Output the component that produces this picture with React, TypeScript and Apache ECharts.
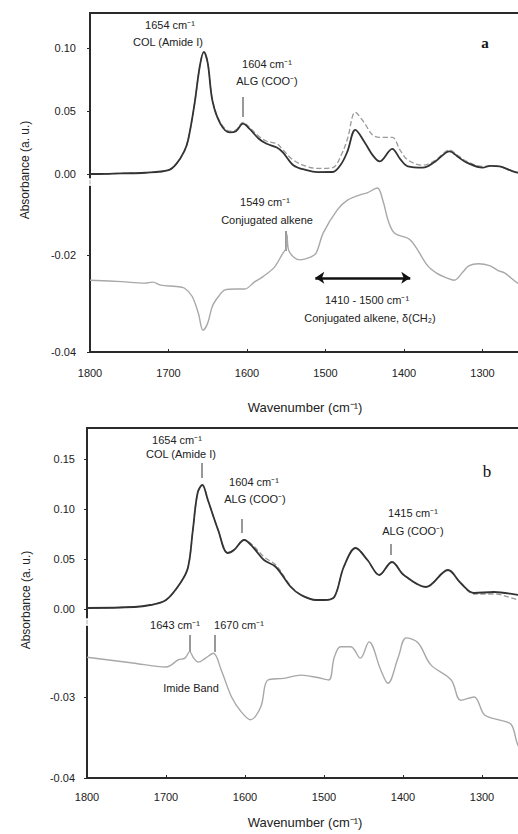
import React, { useEffect, useRef } from "react";
import * as echarts from "echarts";

// ---------- Panel a data ----------
const aSolidWn = [1800, 1790, 1760, 1730, 1700, 1690, 1680, 1675, 1667, 1660, 1655, 1650, 1644, 1634, 1622, 1614, 1605, 1597, 1585, 1575, 1562, 1554, 1541, 1524, 1510, 1491, 1480, 1472, 1462, 1450, 1440, 1431, 1415, 1405, 1395, 1376, 1360, 1342, 1330, 1320, 1300, 1290, 1278, 1265, 1255, 1230, 1200];
const aSolidVal = [0.0, 0.0, 0.0005, 0.001, 0.003, 0.008, 0.018, 0.027, 0.055, 0.086, 0.097, 0.088, 0.058, 0.040, 0.033, 0.034, 0.040, 0.036, 0.028, 0.024, 0.021, 0.017, 0.007, 0.003, 0.0015, 0.0016, 0.008, 0.018, 0.035, 0.025, 0.015, 0.010, 0.020, 0.012, 0.006, 0.005, 0.010, 0.018, 0.013, 0.009, 0.005, 0.0065, 0.006, 0.003, 0.001, -0.002, -0.004];
const aDashVal = [0.0, 0.0, 0.0005, 0.001, 0.003, 0.008, 0.018, 0.027, 0.055, 0.086, 0.097, 0.088, 0.059, 0.041, 0.034, 0.035, 0.041, 0.037, 0.030, 0.026, 0.024, 0.019, 0.011, 0.006, 0.0045, 0.005, 0.015, 0.028, 0.049, 0.040, 0.031, 0.029, 0.029, 0.019, 0.011, 0.007, 0.011, 0.019, 0.014, 0.010, 0.006, 0.0065, 0.006, 0.003, 0.001, -0.002, -0.004];
const aDiffWn = [1800, 1760, 1730, 1720, 1710, 1690, 1680, 1670, 1662, 1656, 1650, 1644, 1636, 1628, 1615, 1603, 1590, 1580, 1565, 1555, 1550, 1549, 1547, 1540, 1532, 1520, 1512, 1503, 1485, 1472, 1456, 1447, 1434, 1427, 1420, 1412, 1392, 1370, 1358, 1346, 1336, 1325, 1317, 1305, 1291, 1280, 1272, 1255, 1230, 1200];
const aDiffVal = [-0.0252, -0.0255, -0.0258, -0.0256, -0.0262, -0.0265, -0.0268, -0.0285, -0.032, -0.0355, -0.034, -0.0305, -0.0285, -0.0272, -0.027, -0.027, -0.0255, -0.0245, -0.0225, -0.0198, -0.0185, -0.0158, -0.019, -0.0205, -0.021, -0.0205, -0.0196, -0.0155, -0.0107, -0.0087, -0.0076, -0.0072, -0.0062, -0.0087, -0.013, -0.0155, -0.0169, -0.0222, -0.0238, -0.0247, -0.0252, -0.0235, -0.0222, -0.0218, -0.0222, -0.0232, -0.0237, -0.0258, -0.028, -0.030];
const aArrow = [1513, 1392];
const aArrowVal = -0.0247;
const aOriginMark = [[1800, -0.0063]];
const aUpperTicks = [0, 0.05, 0.1];
const aLowerTicks = [-0.04, -0.02];

// ---------- Panel b data ----------
const bSolidWn = [1800, 1740, 1720, 1700, 1681, 1672, 1666, 1660, 1654, 1647, 1634, 1622, 1614, 1601, 1589, 1576, 1561, 1542, 1529, 1510, 1500, 1487, 1475, 1460, 1445, 1430, 1414, 1399, 1371, 1343, 1327, 1310, 1285, 1253, 1230, 1200];
const bSolidVal = [0.001, 0.002, 0.004, 0.009, 0.027, 0.042, 0.079, 0.116, 0.124, 0.109, 0.079, 0.056, 0.059, 0.069, 0.061, 0.049, 0.042, 0.022, 0.014, 0.009, 0.009, 0.012, 0.042, 0.061, 0.049, 0.034, 0.047, 0.034, 0.022, 0.039, 0.026, 0.016, 0.017, 0.014, 0.012, 0.010];
const bDashVal = [0.001, 0.002, 0.004, 0.009, 0.027, 0.042, 0.079, 0.116, 0.124, 0.109, 0.079, 0.056, 0.059, 0.069, 0.063, 0.052, 0.044, 0.023, 0.014, 0.009, 0.009, 0.012, 0.042, 0.061, 0.049, 0.034, 0.047, 0.034, 0.022, 0.039, 0.026, 0.015, 0.015, 0.009, 0.006, 0.004];
const bDiffWn = [1800, 1742, 1700, 1684, 1676, 1670, 1665, 1659, 1650, 1640, 1630, 1617, 1605, 1593, 1580, 1571, 1551, 1529, 1508, 1494, 1487, 1479, 1466, 1454, 1443, 1428, 1419, 1406, 1396, 1381, 1365, 1339, 1327, 1310, 1297, 1280, 1263, 1253, 1230, 1200];
const bDiffVal = [-0.0251, -0.0258, -0.0263, -0.0254, -0.0252, -0.0244, -0.0252, -0.0257, -0.0252, -0.0246, -0.0267, -0.030, -0.0318, -0.0328, -0.0312, -0.0279, -0.0277, -0.0273, -0.0276, -0.0279, -0.0251, -0.0238, -0.0238, -0.0252, -0.0232, -0.0267, -0.0283, -0.0251, -0.0227, -0.0233, -0.026, -0.0279, -0.0304, -0.030, -0.0322, -0.0328, -0.0334, -0.0362, -0.038, -0.039];
const bOriginMark = [[1800, -0.013]];
const bUpperTicks = [0, 0.05, 0.1, 0.15];
const bLowerTicks = [-0.04, -0.03];

const xTickLabels = [1800, 1700, 1600, 1500, 1400, 1300];

const zip = (xs: number[], ys: number[]) => xs.map((x, i) => [x, ys[i]]);

const FONT = "Liberation Sans";
const AXIS = "#2a2a2a";
const TICK_FS = 11;
const ANN_FS = 11;

function makeXAxis(gridIndex: number, margin: number) {
  return {
    type: "value",
    gridIndex,
    min: 1200,
    max: 1800,
    interval: 100,
    inverse: true,
    axisLine: { show: true, onZero: false, lineStyle: { color: AXIS, width: 1.8 } },
    axisTick: { show: true, inside: true, length: 3, lineStyle: { color: AXIS } },
    axisLabel: {
      show: true,
      margin,
      fontSize: TICK_FS,
      fontFamily: FONT,
      color: "#222",
      formatter: (v: number) => (xTickLabels.indexOf(v) >= 0 ? String(v) : ""),
    },
    splitLine: { show: false },
  };
}

function makeYAxis(gridIndex: number, min: number, max: number, ticks: number[], showLine: boolean, margin: number) {
  return {
    type: "value",
    gridIndex,
    position: "left",
    min,
    max,
    axisLine: { show: showLine, onZero: false, lineStyle: { color: AXIS, width: 1.8 } },
    axisTick: { show: true, length: 3, customValues: ticks, lineStyle: { color: AXIS } },
    axisLabel: {
      show: true,
      margin,
      customValues: ticks,
      fontSize: TICK_FS,
      fontFamily: FONT,
      color: "#222",
      formatter: (v: number) => v.toFixed(2),
    },
    splitLine: { show: false },
  };
}

function lineSeries(xi: number, yi: number, data: number[][], color: string, width: number, type: string, extra: any = {}) {
  return {
    type: "line",
    xAxisIndex: xi,
    yAxisIndex: yi,
    data,
    showSymbol: false,
    smooth: 0.35,
    lineStyle: { color, width, type },
    silent: true,
    ...extra,
  };
}

function txt(x: number, y: number, text: string, size = ANN_FS, extra: any = {}) {
  return {
    type: "text",
    x,
    y,
    silent: true,
    style: {
      text,
      fill: "#222",
      fontSize: size,
      fontFamily: FONT,
      align: "center",
      verticalAlign: "middle",
      ...extra,
    },
  };
}

function tick(x: number, y1: number, y2: number) {
  return {
    type: "line",
    silent: true,
    shape: { x1: x, y1, x2: x, y2 },
    style: { stroke: "#333", lineWidth: 1 },
  };
}

export default function App() {
  const ref = useRef<HTMLDivElement>(null);
  useEffect(() => {
    if (!ref.current) return;
    const chart = echarts.init(ref.current, undefined, { renderer: "svg" });

    // panel a geometry: top 13, bottom 352
    const aTop = 13, aH = 339;
    const aUpMax = (174 - 13) / 1260, aUpMin = -(352 - 174) / 1260;
    const aLoMin = -0.04, aLoMax = -0.04 + aH / 4850;
    // panel b geometry: top 428, bottom 778
    const bTop = 428, bH = 350;
    const bUpMax = (609 - 428) / 1000, bUpMin = -(778 - 609) / 1000;
    const bLoMin = -0.04, bLoMax = -0.04 + bH / 8100;

    const gridCommon = { show: true, borderColor: AXIS, borderWidth: 1.8, backgroundColor: "transparent", containLabel: false, outerBoundsMode: "none" };

    const option: any = {
      animation: false,
      backgroundColor: "#fff",
      grid: [
        { ...gridCommon, left: 90, top: aTop, width: 471, height: aH },
        { ...gridCommon, left: 87, top: bTop, width: 474, height: bH },
      ],
      xAxis: [makeXAxis(0, 15), makeXAxis(1, 13)],
      yAxis: [
        makeYAxis(0, aUpMin, aUpMax, aUpperTicks, true, 14),
        makeYAxis(0, aLoMin, aLoMax, aLowerTicks, false, 14),
        makeYAxis(1, bUpMin, bUpMax, bUpperTicks, true, 12),
        makeYAxis(1, bLoMin, bLoMax, bLowerTicks, false, 12),
      ],
      series: [
        lineSeries(0, 0, zip(aSolidWn, aDashVal), "#9a9a9a", 1.3, "dashed"),
        lineSeries(0, 0, zip(aSolidWn, aSolidVal), "#333", 1.8, "solid"),
        lineSeries(0, 1, zip(aDiffWn, aDiffVal), "#a8a8a8", 1.4, "solid", {
          markLine: {
            silent: true,
            symbol: ["arrow", "arrow"],
            symbolSize: [9, 9],
            label: { show: false },
            lineStyle: { color: "#111", width: 2.6, type: "solid" },
            data: [[{ coord: [aArrow[0], aArrowVal] }, { coord: [aArrow[1], aArrowVal] }]],
          },
        }),
        {
          type: "scatter", xAxisIndex: 0, yAxisIndex: 0, data: aOriginMark, symbol: "emptyCircle", symbolSize: 6,
          itemStyle: { color: "#fff", borderColor: "#333", borderWidth: 1.3 }, silent: true,
        },
        lineSeries(1, 2, zip(bSolidWn, bDashVal), "#9a9a9a", 1.3, "dashed"),
        lineSeries(1, 2, zip(bSolidWn, bSolidVal), "#333", 1.8, "solid"),
        lineSeries(1, 3, zip(bDiffWn, bDiffVal), "#a8a8a8", 1.4, "solid"),
        {
          type: "scatter", xAxisIndex: 1, yAxisIndex: 2, data: bOriginMark, symbol: "emptyCircle", symbolSize: 6,
          itemStyle: { color: "#fff", borderColor: "#333", borderWidth: 1.3 }, silent: true,
        },
      ],
      graphic: [
        // panel a
        txt(170, 25, "1654 cm⁻¹"),
        txt(168, 42, "COL (Amide I)"),
        txt(267, 64, "1604 cm⁻¹"),
        txt(267, 81, "ALG (COO⁻)"),
        tick(243, 97, 117),
        txt(265, 202, "1549 cm⁻¹"),
        txt(267, 220, "Conjugated alkene"),
        tick(286, 231, 251),
        txt(367, 300, "1410 - 1500 cm⁻¹"),
        txt(370, 318, "Conjugated alkene, δ(CH₂)"),
        txt(485, 43, "a", 15, { fontFamily: "Liberation Serif", fontWeight: "bold", fill: "#111" }),
        txt(305, 407, "Wavenumber (cm⁻¹)", 13),
        { ...txt(25, 170, "Absorbance (a. u.)", 12), rotation: Math.PI / 2 },
        // panel b
        txt(177, 440, "1654 cm⁻¹"),
        txt(181, 454, "COL (Amide I)"),
        tick(202, 463, 478),
        txt(254, 482, "1604 cm⁻¹"),
        txt(255, 499, "ALG (COO⁻)"),
        tick(242, 519, 533),
        txt(413, 513, "1415 cm⁻¹"),
        txt(413, 531, "ALG (COO⁻)"),
        tick(391, 544, 555),
        txt(175, 625, "1643 cm⁻¹"),
        txt(239, 625, "1670 cm⁻¹"),
        tick(190, 635, 652),
        tick(215, 635, 652),
        txt(191, 688, "Imide Band"),
        txt(487, 471, "b", 17, { fontFamily: "Liberation Serif", fill: "#111" }),
        txt(305, 822, "Wavenumber (cm⁻¹)", 13),
        { ...txt(26, 600, "Absorbance (a. u.)", 12), rotation: Math.PI / 2 },
      ],
    };
    chart.setOption(option);
    return () => chart.dispose();
  }, []);
  return <div ref={ref} style={{ position: "fixed", left: 0, top: 0, width: 518, height: 834, background: "#fff" }} />;
}
